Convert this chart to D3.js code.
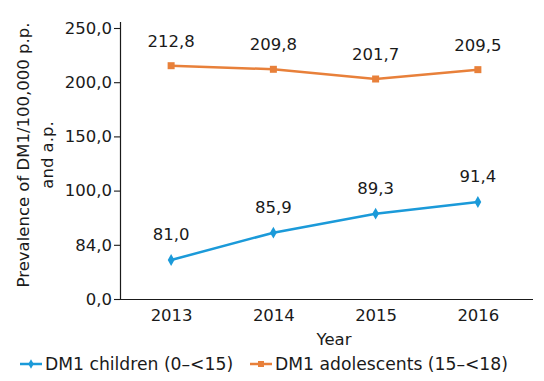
<!DOCTYPE html>
<html>
<head>
<meta charset="utf-8">
<script src="https://cdn.jsdelivr.net/npm/d3@7"></script>
<style>
  html, body { margin: 0; padding: 0; background: #ffffff; }
  svg { display: block; }
  text { font-family: "DejaVu Sans", sans-serif; fill: #1a1a1a; }
</style>
</head>
<body>
<svg id="chart" width="544" height="381"></svg>
<script>
// ---- data ----
const years = ["2013", "2014", "2015", "2016"];
const children = [81.0, 85.9, 89.3, 91.4];
const adolescents = [212.8, 209.8, 201.7, 209.5];
const yTickValues = [0, 84, 100, 150, 200, 250];
const yTickLabels = ["0,0", "84,0", "100,0", "150,0", "200,0", "250,0"];
const seriesNames = ["DM1 children (0\u2013<15)", "DM1 adolescents (15\u2013<18)"];
const xTitle = "Year";
const yTitle = ["Prevalence of DM1/100,000 p.p.", "and a.p."];

// ---- layout ----
const mLeft = 120, mRight = 531, mTop = 28, mBottom = 299;
const blue = "#1b9ad9", orange = "#e8803a";
const fmt = v => v.toFixed(1).replace(".", ",");

const svg = d3.select("#chart");

const x = d3.scalePoint().domain(years).range([mLeft, mRight - 2]).padding(0.5);

// displayed axis: equally spaced ticks
const yAxisScale = d3.scaleLinear()
  .domain(yTickValues)
  .range(yTickValues.map((d, i) => mBottom - i * (mBottom - mTop) / (yTickValues.length - 1)));

// series scales (as drawn in the reference)
const yChild = d3.scaleLinear().domain([81.0, 91.4]).range([260, 202]);
const yAdol = d3.scaleLinear().domain([201.7, 212.8]).range([79, 65.7]);

// y axis
const yAxis = d3.axisLeft(yAxisScale)
  .tickValues(yTickValues)
  .tickFormat((d, i) => yTickLabels[i])
  .tickSize(6).tickSizeOuter(0).tickPadding(2);
const gy = svg.append("g").attr("transform", `translate(${mLeft},0)`).call(yAxis);
gy.select(".domain").attr("stroke", "#1a1a1a").attr("stroke-width", 1.2)
  .attr("d", `M0.5,${mTop - 6}V${mBottom}`);
gy.selectAll(".tick line").attr("stroke", "#1a1a1a").attr("stroke-width", 1.1);
gy.selectAll(".tick text").style("font-size", "16.5px").attr("fill", "#1a1a1a");

// x axis
const xAxis = d3.axisBottom(x).tickSize(0).tickPadding(10);
const gx = svg.append("g").attr("transform", `translate(0,${mBottom})`).call(xAxis);
gx.select(".domain").attr("stroke", "#1a1a1a").attr("stroke-width", 1.2)
  .attr("d", `M${mLeft},0.5H${mRight + 2}`);
gx.selectAll(".tick text").style("font-size", "16.5px").attr("fill", "#1a1a1a");

// axis titles
svg.append("text").attr("x", 334).attr("y", 345).attr("text-anchor", "middle")
  .style("font-size", "16.5px").text(xTitle);
const yt = svg.append("text").attr("transform", "translate(28.5,155) rotate(-90)")
  .attr("text-anchor", "middle").style("font-size", "16.5px");
yTitle.forEach((t, i) => yt.append("tspan").attr("x", 0).attr("dy", i === 0 ? 0 : 24.5).text(t));

// lines
const line = (ys) => d3.line().x((d, i) => x(years[i])).y(d => ys(d));
svg.append("path").datum(children).attr("d", line(yChild))
  .attr("fill", "none").attr("stroke", blue).attr("stroke-width", 2.5);
svg.append("path").datum(adolescents).attr("d", line(yAdol))
  .attr("fill", "none").attr("stroke", orange).attr("stroke-width", 2.5);

// markers
const diamond = d3.symbol().type(d3.symbolDiamond).size(40);
svg.selectAll(".mc").data(children).join("path").attr("class", "mc")
  .attr("d", diamond)
  .attr("transform", (d, i) => `translate(${x(years[i])},${yChild(d)})`)
  .attr("fill", blue);
svg.selectAll(".ma").data(adolescents).join("rect").attr("class", "ma")
  .attr("x", (d, i) => x(years[i]) - 3.5).attr("y", d => yAdol(d) - 3.5)
  .attr("width", 7).attr("height", 7).attr("fill", orange);

// value labels
svg.selectAll(".lc").data(children).join("text").attr("class", "lc")
  .attr("x", (d, i) => x(years[i])).attr("y", d => yChild(d) - 20)
  .attr("text-anchor", "middle").style("font-size", "16.5px").text(fmt);
svg.selectAll(".la").data(adolescents).join("text").attr("class", "la")
  .attr("x", (d, i) => x(years[i])).attr("y", d => yAdol(d) - 19)
  .attr("text-anchor", "middle").style("font-size", "16.5px").text(fmt);

// legend
const lg = svg.append("g").attr("transform", "translate(0,364)");
const items = [
  { name: seriesNames[0], color: blue, x0: 20, type: "diamond" },
  { name: seriesNames[1], color: orange, x0: 250, type: "square" }
];
items.forEach(it => {
  lg.append("line").attr("x1", it.x0).attr("x2", it.x0 + 22).attr("y1", 0).attr("y2", 0)
    .attr("stroke", it.color).attr("stroke-width", 2.5);
  if (it.type === "diamond") {
    lg.append("path").attr("d", d3.symbol().type(d3.symbolDiamond).size(26)())
      .attr("transform", `translate(${it.x0 + 11},0)`).attr("fill", it.color);
  } else {
    lg.append("rect").attr("x", it.x0 + 8).attr("y", -3).attr("width", 6).attr("height", 6)
      .attr("fill", it.color);
  }
  lg.append("text").attr("x", it.x0 + 25).attr("y", 6).style("font-size", "17.2px").text(it.name);
});
</script>
</body>
</html>
